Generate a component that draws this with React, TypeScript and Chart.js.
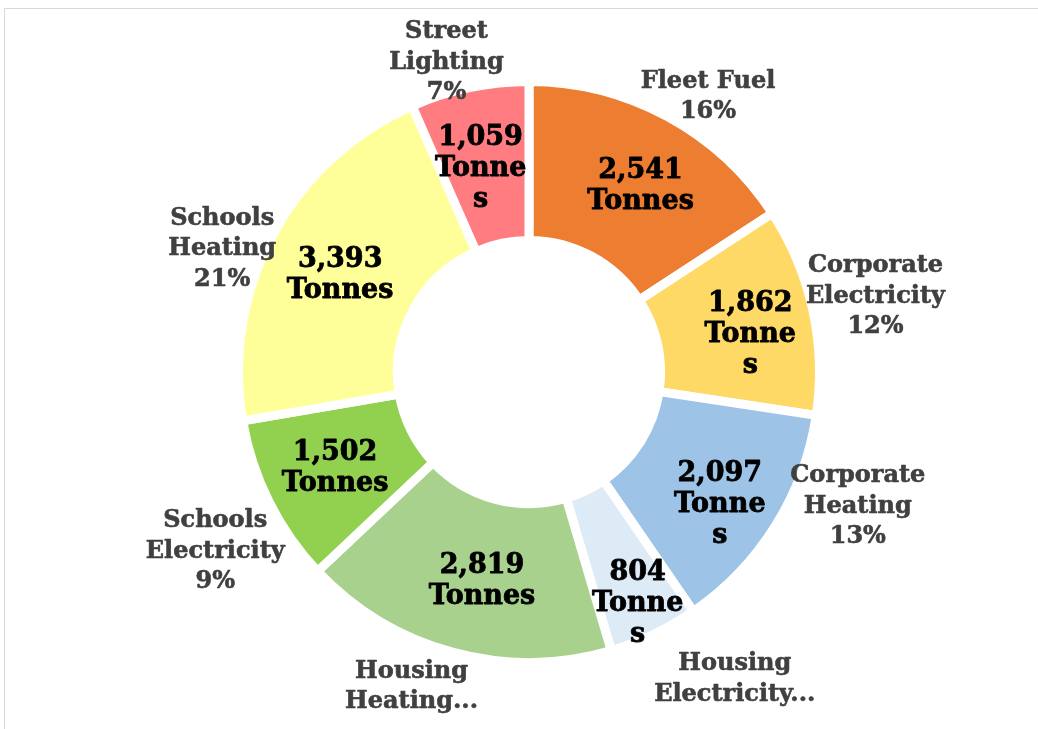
import React, { useEffect, useRef } from "react";
import { Chart, registerables } from "chart.js";

Chart.register(...registerables);

// ---- data ----
const categories = [
  "Fleet Fuel",
  "Corporate Electricity",
  "Corporate Heating",
  "Housing Electricity",
  "Housing Heating",
  "Schools Electricity",
  "Schools Heating",
  "Street Lighting",
];
const tonnes = [2541, 1862, 2097, 804, 2819, 1502, 3393, 1059];
const categoryLabelLines = [
  ["Fleet Fuel"],
  ["Corporate", "Electricity"],
  ["Corporate", "Heating"],
  ["Housing", "Electricity..."],
  ["Housing", "Heating..."],
  ["Schools", "Electricity"],
  ["Schools", "Heating"],
  ["Street", "Lighting"],
];
const showPercent = [true, true, true, false, false, true, true, true];
const unitWrapped = [false, true, true, true, false, false, false, true];
const unitLabel = "Tonnes";

// ---- styles / layout ----
const sliceColors = ["#ED7D31", "#FFD966", "#9DC3E6", "#DDEBF7", "#A9D18E", "#92D050", "#FFFF99", "#FF7C80"];
const FONT = '"DejaVu Serif", Georgia, serif';
const INNER_SIZE = 27;
const INNER_LH = 31;
const OUTER_SIZE = 24;
const OUTER_LH = 30.5;
const innerNudge = [
  [11, 0], [15, 8], [12, 21], [18, 41], [8, 6], [-5, 2], [-3, 4], [-5, 4],
];
const outerNudge = [
  [19, 20], [0, 0], [25, -56], [60, 1], [-33, 2], [8, 19], [-2, 41], [-14, 17],
];

const labelPlugin = {
  id: "sliceLabels",
  afterDatasetsDraw(chart: any) {
    const ctx = chart.ctx as CanvasRenderingContext2D;
    const meta = chart.getDatasetMeta(0);
    const total = tonnes.reduce((a, b) => a + b, 0);
    meta.data.forEach((el: any, i: number) => {
      const p = el.getProps(["x", "y", "startAngle", "endAngle", "innerRadius", "outerRadius"], true);
      const mid = (p.startAngle + p.endAngle) / 2;
      const c = Math.cos(mid);
      const s = Math.sin(mid);

      ctx.save();
      ctx.textAlign = "center";
      ctx.textBaseline = "middle";
      ctx.lineJoin = "round";

      // value label inside the ring
      const vText = tonnes[i].toLocaleString("en-US");
      const lines = unitWrapped[i]
        ? [vText, unitLabel.slice(0, -1), unitLabel.slice(-1)]
        : [vText, unitLabel];
      const rMid = (p.innerRadius + p.outerRadius) / 2;
      const cx = p.x + c * rMid + innerNudge[i][0];
      const cy = p.y + s * rMid + innerNudge[i][1];
      ctx.font = `bold ${INNER_SIZE}px ${FONT}`;
      ctx.fillStyle = "#000000";
      ctx.strokeStyle = "#000000";
      ctx.lineWidth = 0.8;
      lines.forEach((t, k) => {
        const ty = cy + (k - (lines.length - 1) / 2) * INNER_LH;
        ctx.fillText(t, cx, ty);
        ctx.strokeText(t, cx, ty);
      });

      // category label outside the ring
      const pct = Math.round((tonnes[i] / total) * 100) + "%";
      const olines = showPercent[i] ? [...categoryLabelLines[i], pct] : categoryLabelLines[i];
      ctx.font = `bold ${OUTER_SIZE}px ${FONT}`;
      ctx.fillStyle = "#404040";
      ctx.strokeStyle = "#404040";
      ctx.lineWidth = 0.6;
      const hw = Math.max(...olines.map((t) => ctx.measureText(t).width)) / 2;
      const hh = (olines.length * OUTER_LH) / 2;
      const ext = Math.abs(c) * hw + Math.abs(s) * hh;
      const d = p.outerRadius - 13.5 + ext;
      const ox = p.x + c * d + outerNudge[i][0];
      const oy = p.y + s * d + outerNudge[i][1];
      olines.forEach((t, k) => {
        const ty = oy + (k - (olines.length - 1) / 2) * OUTER_LH;
        ctx.fillText(t, ox, ty);
        ctx.strokeText(t, ox, ty);
      });
      ctx.restore();
    });
  },
};

export default function App() {
  const canvasRef = useRef<HTMLCanvasElement | null>(null);

  useEffect(() => {
    if (!canvasRef.current) return;
    const chart = new Chart(canvasRef.current, {
      type: "doughnut",
      data: {
        labels: categories,
        datasets: [
          {
            data: tonnes,
            backgroundColor: sliceColors,
            borderColor: "#ffffff",
            borderWidth: 9,
            hoverOffset: 0,
            offset: 0,
          },
        ],
      },
      options: {
        responsive: false,
        animation: false,
        devicePixelRatio: 1,
        cutout: "45.3%",
        radius: 290.5,
        layout: { padding: { left: 20, right: 0, top: 15, bottom: 0 } },
        plugins: {
          legend: { display: false },
          tooltip: { enabled: false },
        },
        events: [],
      },
      plugins: [labelPlugin],
    } as any);
    return () => chart.destroy();
  }, []);

  return (
    <div
      style={{
        position: "absolute",
        left: 0,
        top: 0,
        width: 1038,
        height: 729,
        overflow: "hidden",
        background: "#ffffff",
      }}
    >
      <div
        style={{
          position: "absolute",
          left: 4,
          top: 8,
          width: 1100,
          height: 800,
          border: "1px solid #d9d9d9",
        }}
      />
      <canvas
        ref={canvasRef}
        width={1038}
        height={729}
        style={{ position: "absolute", left: 0, top: 0, width: 1038, height: 729 }}
      />
    </div>
  );
}
